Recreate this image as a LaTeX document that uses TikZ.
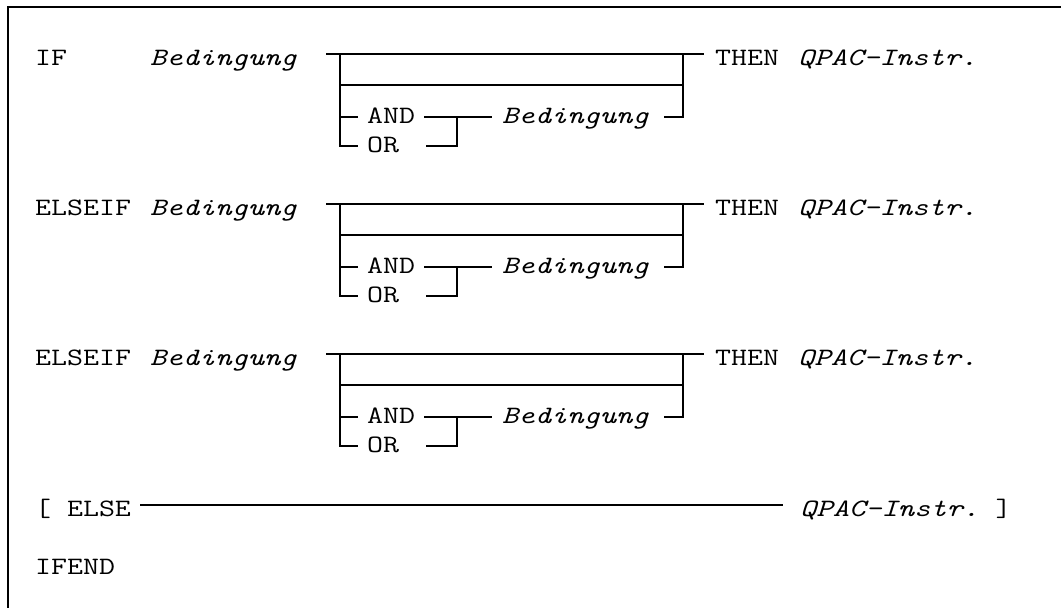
\documentclass[tikz,border=0pt]{standalone}
\usepackage{fontspec}
\setmonofont{Latin Modern Mono}[FakeStretch=1.24]
\begin{document}
\begin{tikzpicture}[x=1pt,y=-1pt,
  txt/.style={font=\ttfamily\fontsize{25}{30}\selectfont, inner sep=0pt, anchor=base west},
  itx/.style={txt, font=\ttfamily\itshape\fontsize{25}{30}\selectfont},
  ln/.style={line width=1.4pt, line join=miter},
  frame/.style={line width=2.4pt}]
\useasboundingbox (0,0) rectangle (1061,608);
% frame (only top and left edges visible)
\coordinate (fbl) at (8,608);
\coordinate (ftl) at (8,7);
\coordinate (ftr) at (1061,7);
\draw[frame] (fbl) -- (ftl) -- (ftr);
% three condition blocks
\foreach \Y/\kw/\n in {54/IF/a, 204/ELSEIF/b, 354/ELSEIF/c}{
  \node[txt] (kw\n) at (35,\Y+11) {\kw};
  \node[itx] (bed\n) at (150,\Y+11) {Bedingung};
  \node[txt] (and\n) at (367,\Y+69) {AND};
  \node[txt] (or\n) at (367,\Y+98) {OR};
  \node[itx] (bedb\n) at (502,\Y+69) {Bedingung};
  \node[txt] (then\n) at (715,\Y+11) {THEN};
  \node[itx] (qp\n) at (798,\Y+11) {QPAC-Instr.};
  \coordinate (s\n) at (326,\Y);
  \coordinate (e\n) at (704,\Y);
  \coordinate (l\n) at (340,\Y);
  \coordinate (lm\n) at (340,\Y+31);
  \coordinate (la\n) at (340,\Y+63);
  \coordinate (lo\n) at (340,\Y+92);
  \coordinate (r\n) at (683,\Y);
  \coordinate (rm\n) at (683,\Y+31);
  \coordinate (ra\n) at (683,\Y+63);
  \coordinate (ta\n) at (358,\Y+63);
  \coordinate (to\n) at (358,\Y+92);
  \coordinate (aa\n) at (424,\Y+63);
  \coordinate (ab\n) at (492,\Y+63);
  \coordinate (oa\n) at (426,\Y+92);
  \coordinate (ob\n) at (457,\Y+92);
  \coordinate (oc\n) at (457,\Y+63);
  \coordinate (ba\n) at (664,\Y+63);
  \draw[ln] (s\n) -- (e\n);
  \draw[ln] (l\n) -- (lo\n) -- (to\n);
  \draw[ln] (la\n) -- (ta\n);
  \draw[ln] (lm\n) -- (rm\n);
  \draw[ln] (r\n) -- (ra\n) -- (ba\n);
  \draw[ln] (aa\n) -- (ab\n);
  \draw[ln] (oa\n) -- (ob\n) -- (oc\n);
}
% ELSE line
\node[txt] (else) at (35,516) {[ ELSE};
\node[itx] (qpe) at (800,516) {QPAC-Instr.};
\node[txt] (brk) at (qpe.base east) {~]};
\coordinate (es) at (140,505);
\coordinate (ee) at (783,505);
\draw[ln] (es) -- (ee);
% IFEND
\node[txt] (ifend) at (35,574) {IFEND};
\end{tikzpicture}
\end{document}
